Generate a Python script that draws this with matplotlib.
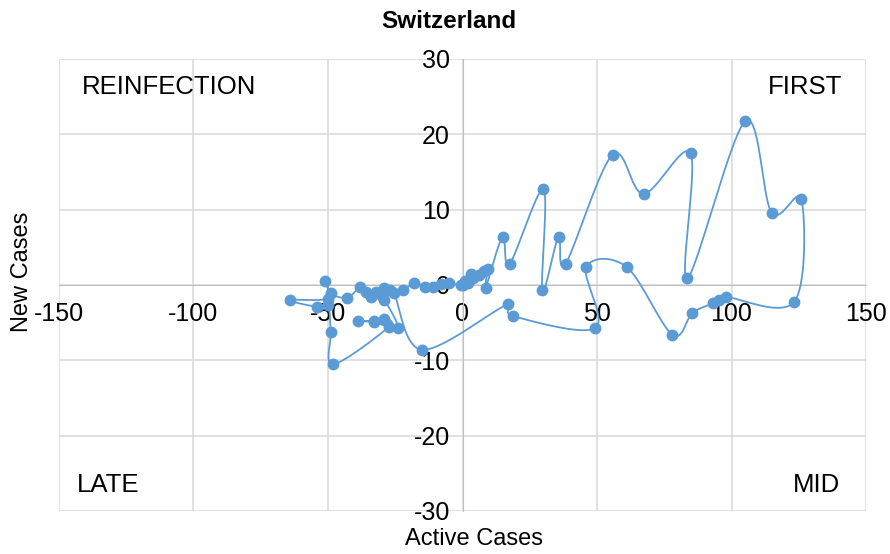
import matplotlib
matplotlib.use("Agg")
import matplotlib.pyplot as plt
import numpy as np

plt.rcParams["font.family"] = ["Liberation Sans", "DejaVu Sans"]
plt.rcParams["axes.unicode_minus"] = False

# Active cases (x) and new cases (y), in time order
active = [0, 1, 3, 2, 4, 6, 8, 9.3, 8.6,
          14.9, 17.5, 30.1, 29.7, 35.7, 38.3, 55.8, 67.3, 84.8, 83.6,
          105.2, 114.9, 126, 123.4, 98.1, 95.5, 93.3, 85.5, 78, 61, 46,
          49.4, 18.6, 17.1, -15, -25.6, -29, -29, -34, -36, -38, -43,
          -49, -51, -50, -64, -54, -50, -49, -48, -27.5, -29, -33, -39,
          -33, -24, -30, -32, -27, -22, -18, -14, -11, -8, -5, -0.7]
new = [0, 0.5, 1.4, 0.3, 0.9, 1.3, 1.8, 2.1, -0.4,
       6.4, 2.8, 12.7, -0.7, 6.4, 2.8, 17.3, 12.1, 17.5, 0.9,
       21.8, 9.6, 11.4, -2.2, -1.6, -2.0, -2.4, -3.7, -6.6, 2.4, 2.4,
       -5.7, -4.1, -2.5, -8.6, -1.1, -2.0, -0.4, -1.6, -0.9, -0.3, -1.7,
       -1.1, 0.5, -1.8, -2.0, -2.9, -2.6, -6.2, -10.5, -5.6, -4.5, -4.8, -4.8,
       -4.9, -5.7, -1.4, -0.9, -0.7, -0.7, 0.3, -0.2, -0.3, 0.1, 0.2, 0]

x_ticks = [-150, -100, -50, 0, 50, 100, 150]
y_ticks = [-30, -20, -10, 0, 10, 20, 30]

BLUE = "#5B9BD5"
GRID = "#D9D9D9"

fig = plt.figure(figsize=(8.9, 5.54), dpi=100)
ax = fig.add_axes([59 / 890, 43 / 554, 807 / 890, 452 / 554])
ax.set_xlim(-150, 150)
ax.set_ylim(-30, 30)


def smooth(xs, ys, sx, sy, n=20):
    # Excel-style smoothed line: Catmull-Rom Bezier in screen space
    p = np.column_stack([np.array(xs) * sx, np.array(ys) * sy])
    out = [p[0]]
    for i in range(len(p) - 1):
        p0 = p[i - 1] if i > 0 else p[i]
        p1, p2 = p[i], p[i + 1]
        p3 = p[i + 2] if i + 2 < len(p) else p[i + 1]
        c1 = p1 + (p2 - p0) / 6
        c2 = p2 - (p3 - p1) / 6
        t = np.linspace(0, 1, n)[1:, None]
        seg = ((1 - t) ** 3 * p1 + 3 * (1 - t) ** 2 * t * c1
               + 3 * (1 - t) * t ** 2 * c2 + t ** 3 * p2)
        out.extend(seg)
    out = np.array(out)
    return out[:, 0] / sx, out[:, 1] / sy


sx, sy = 807 / 300, 452 / 60
cx, cy = smooth(active, new, sx, sy)
ax.plot(cx, cy, color=BLUE, lw=1.3, zorder=3)
ax.plot(active, new, "o", color=BLUE, ms=7.5, zorder=4)

ax.set_xticks(x_ticks)
ax.set_yticks(y_ticks)
ax.grid(True, color=GRID, lw=1.1)
ax.set_axisbelow(True)
for s in ["top", "right"]:
    ax.spines[s].set_visible(False)
ax.spines["bottom"].set_position(("data", 0))
ax.spines["left"].set_position(("data", 0))
ax.spines["bottom"].set_color("#BFBFBF")
ax.spines["left"].set_color("#BFBFBF")
ax.tick_params(length=0, labelsize=18, colors="black")
ax.tick_params(axis="x", pad=12)
ax.tick_params(axis="y", pad=9)

kw = dict(transform=ax.transAxes, fontsize=18.5, va="center")
ax.text(0.0285, 0.938, "REINFECTION", ha="left", **kw)
ax.text(0.970, 0.938, "FIRST", ha="right", **kw)
ax.text(0.022, 0.0575, "LATE", ha="left", **kw)
ax.text(0.968, 0.0575, "MID", ha="right", **kw)

fig.text(449 / 890, 1 - 22 / 554, "Switzerland", ha="center", va="center",
         fontsize=17.5, fontweight="bold")
fig.text(474 / 890, 1 - 539 / 554, "Active Cases", ha="center", va="center",
         fontsize=17)
fig.text(22 / 890, 1 - 272 / 554, "New Cases", ha="center", va="center",
         fontsize=17, rotation=90)

fig.savefig("out.png", dpi=100)
